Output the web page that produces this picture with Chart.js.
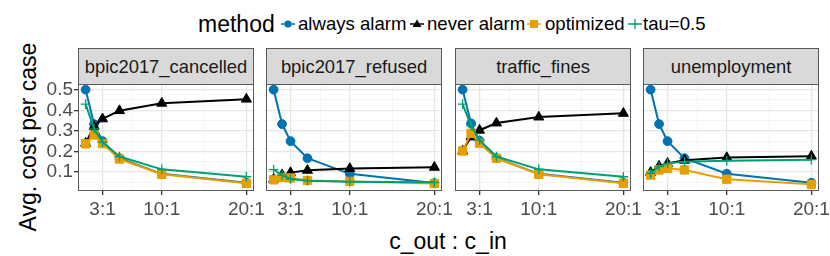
<!DOCTYPE html>
<html>
<head>
<meta charset="utf-8">
<script src="https://cdn.jsdelivr.net/npm/chart.js@4.4.1/dist/chart.umd.min.js"></script>
<style>
  body { margin: 0; width: 830px; height: 256px; overflow: hidden; background: #fff; position: relative;
         font-family: "Liberation Sans", Arial, sans-serif; }
  .abs { position: absolute; white-space: nowrap; }
  .strip { position: absolute; top: 48px; height: 37px; width: 176px; box-sizing: border-box; background: #d9d9d9;
           border: 1px solid #5a5a5a; font-size: 18.4px; color: #1a1a1a; text-align: center; line-height: 35px; }
  canvas { position: absolute; top: 70px; }
</style>
</head>
<body>
<div class="abs" style="left:198px; top:10px; font-size:23px; line-height:28px; color:#000;">method</div>
<svg class="abs" style="left:281px; top:17px;" width="14" height="14">
  <line x1="0" y1="7" x2="14" y2="7" stroke="#0072B2" stroke-width="1.5"/>
  <circle cx="7" cy="7" r="3.6" fill="#0072B2"/>
</svg>
<div class="abs" style="left:298px; top:12px; font-size:18.6px; line-height:24px;">always alarm</div>
<svg class="abs" style="left:410px; top:17px;" width="14" height="14">
  <line x1="0" y1="7" x2="14" y2="7" stroke="#000" stroke-width="1.5"/>
  <polygon points="7,2.5 11.5,10 2.5,10" fill="#000"/>
</svg>
<div class="abs" style="left:427px; top:12px; font-size:18.6px; line-height:24px;">never alarm</div>
<svg class="abs" style="left:527px; top:17px;" width="14" height="14">
  <line x1="0" y1="7" x2="14" y2="7" stroke="#E69F00" stroke-width="1.5"/>
  <rect x="3" y="3" width="8" height="8" fill="#E69F00"/>
</svg>
<div class="abs" style="left:545px; top:12px; font-size:18.6px; line-height:24px;">optimized</div>
<svg class="abs" style="left:628px; top:17px;" width="14" height="14">
  <line x1="0" y1="7" x2="14" y2="7" stroke="#009E73" stroke-width="1.5"/>
  <line x1="7" y1="2" x2="7" y2="12" stroke="#009E73" stroke-width="1.3"/>
</svg>
<div class="abs" style="left:643px; top:12px; font-size:18.6px; line-height:24px;">tau=0.5</div>

<div class="abs" style="left:28px; top:137px; font-size:23px; transform:translate(-50%,-50%) rotate(-90deg);">Avg. cost per case</div>
<div class="abs" style="left:448px; top:241px; font-size:23px; transform:translate(-50%,-50%);">c_out : c_in</div>

<div id="strips"></div>
<canvas id="c0"></canvas>
<canvas id="c1"></canvas>
<canvas id="c2"></canvas>
<canvas id="c3"></canvas>

<script>
// facets and axis ticks
const panels = ['bpic2017_cancelled', 'bpic2017_refused', 'traffic_fines', 'unemployment'];
const ratios = [1, 2, 3, 5, 10, 20];
const xTicks = [3, 10, 20];
const xTickLabels = ['3:1', '10:1', '20:1'];
const xMinor = [6.5, 15];
const yTicks = [0.1, 0.2, 0.3, 0.4, 0.5];
const yTickLabels = ['0.1', '0.2', '0.3', '0.4', '0.5'];
const yMinor = [0.05, 0.15, 0.25, 0.35, 0.45];

// one row per panel, values for ratios 1:1 .. 20:1
const alwaysAlarm = [
  [0.5, 0.333, 0.25, 0.167, 0.091, 0.048],
  [0.5, 0.333, 0.25, 0.167, 0.091, 0.046],
  [0.5, 0.336, 0.252, 0.167, 0.091, 0.048],
  [0.5, 0.333, 0.25, 0.167, 0.092, 0.048]
];
const neverAlarm = [
  [0.24, 0.322, 0.358, 0.398, 0.434, 0.454],
  [0.065, 0.086, 0.097, 0.108, 0.117, 0.123],
  [0.202, 0.27, 0.303, 0.338, 0.367, 0.385],
  [0.098, 0.128, 0.142, 0.157, 0.17, 0.177]
];
const optimized = [
  [0.237, 0.28, 0.238, 0.163, 0.089, 0.045],
  [0.062, 0.074, 0.071, 0.059, 0.054, 0.044],
  [0.202, 0.288, 0.24, 0.166, 0.089, 0.045],
  [0.085, 0.11, 0.118, 0.11, 0.065, 0.04]
];
const tau05 = [
  [0.43, 0.31, 0.245, 0.175, 0.113, 0.077],
  [0.112, 0.085, 0.066, 0.058, 0.053, 0.05],
  [0.43, 0.325, 0.255, 0.175, 0.113, 0.077],
  [0.094, 0.126, 0.142, 0.15, 0.155, 0.16]
];

const panelLeft = [78, 266, 455, 643];
const panelWidth = 176;
const yAxisWidth = 78;
const padRight = 24;

Chart.defaults.font.family = '"Liberation Sans", Arial, sans-serif';

const methods = [
  { label: 'always alarm', data: alwaysAlarm, color: '#0072B2', style: 'circle', radius: 4.4, order: 4 },
  { label: 'never alarm', data: neverAlarm, color: '#000000', style: 'triangle', radius: 5.8, order: 3 },
  { label: 'optimized', data: optimized, color: '#E69F00', style: 'rect', radius: 5.9, order: 2 },
  { label: 'tau=0.5', data: tau05, color: '#009E73', style: 'cross', radius: 4.8, order: 1 }
];

// ggplot-like panel border, drawn on top
const panelBorder = {
  id: 'panelBorder',
  afterDraw(chart) {
    const { ctx, chartArea: a } = chart;
    ctx.save();
    ctx.strokeStyle = '#5a5a5a';
    ctx.lineWidth = 1;
    ctx.strokeRect(a.left + 0.5, a.top + 0.5, a.width - 1, a.height - 1);
    ctx.restore();
  }
};

const stripBox = document.getElementById('strips');

panels.forEach((name, i) => {
  const strip = document.createElement('div');
  strip.className = 'strip';
  strip.style.left = panelLeft[i] + 'px';
  strip.textContent = name;
  stripBox.appendChild(strip);

  const first = i === 0;
  const canvas = document.getElementById('c' + i);
  const leftSpace = first ? yAxisWidth : 0;
  canvas.width = leftSpace + panelWidth + padRight;
  canvas.height = 186;
  canvas.style.left = (panelLeft[i] - leftSpace) + 'px';

  new Chart(canvas, {
    type: 'line',
    data: {
      datasets: methods.map(m => ({
        label: m.label,
        data: ratios.map((r, j) => ({ x: r, y: m.data[i][j] })),
        borderColor: m.color,
        backgroundColor: m.color,
        borderWidth: 2,
        pointStyle: m.style,
        pointRadius: m.radius,
        pointBorderWidth: m.style === 'cross' ? 1.3 : 1,
        pointBorderColor: m.color,
        pointBackgroundColor: m.color,
        tension: 0,
        order: m.order,
        clip: false
      }))
    },
    options: {
      responsive: false,
      animation: false,
      events: [],
      layout: { autoPadding: false, padding: { top: 14, right: padRight, left: 0, bottom: 0 } },
      plugins: { legend: { display: false }, tooltip: { enabled: false } },
      scales: {
        x: {
          type: 'linear',
          min: 0.1,
          max: 20.9,
          afterBuildTicks: s => { s.ticks = [...xTicks, ...xMinor].sort((a, b) => a - b).map(v => ({ value: v })); },
          afterFit: s => { s.height = 65; },
          border: { display: false },
          grid: {
            color: c => xMinor.includes(c.tick.value) ? '#f3f3f3' : '#e6e6e6',
            lineWidth: c => xMinor.includes(c.tick.value) ? 0.8 : 1.3,
            tickColor: c => xMinor.includes(c.tick.value) ? 'rgba(0,0,0,0)' : '#333333',
            tickLength: 4
          },
          ticks: {
            autoSkip: false,
            maxRotation: 0,
            padding: 3,
            color: '#4d4d4d',
            font: { size: 19 },
            callback: v => { const k = xTicks.indexOf(v); return k >= 0 ? xTickLabels[k] : ''; }
          }
        },
        y: {
          min: 0.0077,
          max: 0.5277,
          afterBuildTicks: s => { s.ticks = [...yMinor, ...yTicks].sort((a, b) => a - b).map(v => ({ value: v })); },
          afterFit: s => { s.width = leftSpace; },
          border: { display: false },
          grid: {
            color: c => yMinor.includes(c.tick.value) ? '#f3f3f3' : '#e6e6e6',
            lineWidth: c => yMinor.includes(c.tick.value) ? 0.8 : 1.3,
            tickColor: c => yMinor.includes(c.tick.value) ? 'rgba(0,0,0,0)' : '#333333',
            drawTicks: first,
            tickLength: 4
          },
          ticks: {
            display: first,
            autoSkip: false,
            padding: 1,
            color: '#4d4d4d',
            font: { size: 19 },
            callback: v => { const k = yTicks.indexOf(v); return k >= 0 ? yTickLabels[k] : ''; }
          }
        }
      }
    },
    plugins: [panelBorder]
  });
});
</script>
</body>
</html>
